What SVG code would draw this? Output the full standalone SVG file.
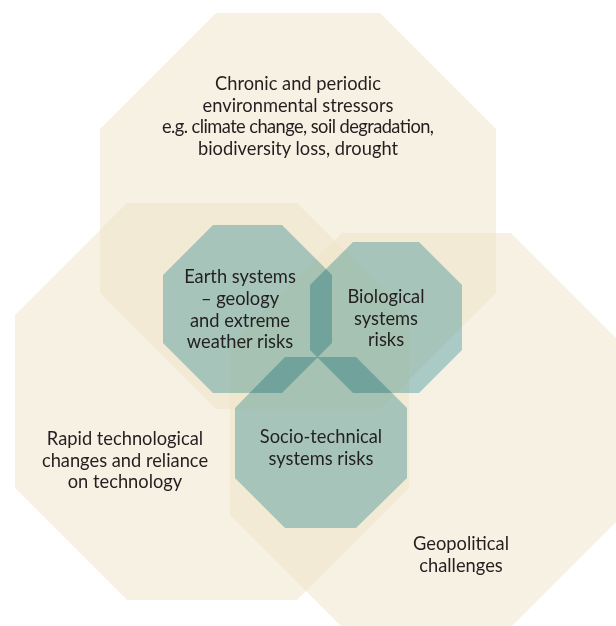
<svg xmlns="http://www.w3.org/2000/svg" width="616" height="626" viewBox="0 0 616 626">
  <style>
    .driver { fill: #ede3c7; fill-opacity: 0.5; }
    .risk { fill: #afd6de; mix-blend-mode: multiply; }
    text { font-family: Lato, "Open Sans", "Liberation Sans", sans-serif; font-size: 18.3px; fill: #231f20; text-anchor: middle; }
  </style>
  <rect width="616" height="626" fill="#ffffff"/>

  <!-- Large octagons: the three driver areas -->
  <g id="environmental-stressors">
    <polygon class="driver" points="216,13 380,13 496,129 496,293 380,409 216,409 100,293 100,129"/>
  </g>
  <g id="technological-change">
    <polygon class="driver" points="127,203 297,203 409,315 409,488 297,600 127,600 15,488 15,315"/>
  </g>
  <g id="geopolitical-challenges">
    <polygon class="driver" points="342,233 511,233 623,345 623,515 511,627 342,627 230,515 230,345"/>
  </g>

  <!-- Small octagons: the three risk systems, multiplied over the drivers -->
  <g id="earth-systems">
    <polygon class="risk" points="213,225 282,225 332,275 332,343 282,393 213,393 163,343 163,275"/>
  </g>
  <g id="biological-systems">
    <polygon class="risk" points="353,242 419,242 462,285 462,350 419,393 353,393 310,350 310,285"/>
  </g>
  <g id="socio-technical-systems">
    <polygon class="risk" points="285,357 356,357 407,408 407,478 356,528 285,528 235,478 235,408"/>
  </g>

  <!-- Labels -->
  <g id="labels">
    <text x="298" y="90">Chronic and periodic</text>
    <text x="298" y="112">environmental stressors</text>
    <text x="298" y="133" textLength="272" lengthAdjust="spacing">e.g. climate change, soil degradation,</text>
    <text x="298" y="155">biodiversity loss, drought</text>

    <text x="240" y="283">Earth systems</text>
    <text x="240" y="305">– geology</text>
    <text x="240" y="327">and extreme</text>
    <text x="240" y="348">weather risks</text>

    <text x="386" y="303">Biological</text>
    <text x="386" y="325">systems</text>
    <text x="386" y="346">risks</text>

    <text x="321" y="443">Socio-technical</text>
    <text x="321" y="465">systems risks</text>

    <text x="125" y="445">Rapid technological</text>
    <text x="125" y="467">changes and reliance</text>
    <text x="125" y="488">on technology</text>

    <text x="461" y="550">Geopolitical</text>
    <text x="461" y="572">challenges</text>
  </g>
</svg>
